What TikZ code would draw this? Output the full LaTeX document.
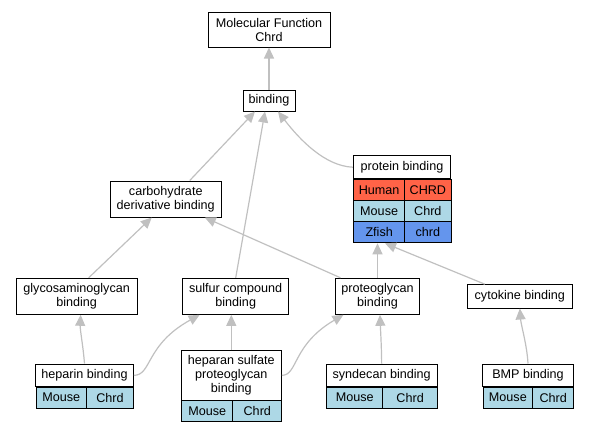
\documentclass[tikz,border=0pt]{standalone}
\usepackage{fontspec}
\setmainfont{Liberation Sans}
\usetikzlibrary{arrows.meta}
\definecolor{edgegray}{HTML}{C0C0C0}
\definecolor{human}{HTML}{FF6347}
\definecolor{mouse}{HTML}{ADD8E6}
\definecolor{zfish}{HTML}{6495ED}
\begin{document}
\begin{tikzpicture}[x=1pt,y=-1pt,
 box/.style={draw=black, line width=1pt, fill=white, inner sep=0pt, align=center,
   font=\fontsize{12.6}{14}\selectfont},
 cellnw/.style={box, anchor=north west},
 edge/.style={draw=edgegray, line width=1.2pt, -{Triangle[width=10pt,length=11pt]}}]
\useasboundingbox (0,0) rectangle (589,432);

% plain term boxes
\node[box, minimum width=122pt, minimum height=35pt] (mf) at (269,29.5) {Molecular Function\\Chrd};
\node[box, minimum width=52pt, minimum height=21pt] (bind) at (269,100.5) {binding};
\node[box, minimum width=110.5pt, minimum height=36pt] (carb) at (165.75,199) {carbohydrate\\derivative binding};
\node[box, minimum width=121.3pt, minimum height=36pt] (glyc) at (76.65,296.3) {glycosaminoglycan\\binding};
\node[box, minimum width=106pt, minimum height=36pt] (sulf) at (235.7,296.3) {sulfur compound\\binding};
\node[box, minimum width=84.4pt, minimum height=36pt] (prote) at (377.5,296.3) {proteoglycan\\binding};
\node[box, minimum width=104.3pt, minimum height=23.3pt] (cyto) at (519.85,296.35) {cytokine binding};

% protein binding table
\node[box, minimum width=97.4pt, minimum height=23pt] (pT) at (402,167.2) {protein binding};
\node[cellnw, fill=human, minimum width=50.7pt, minimum height=21.3pt] (pH1) at (353.3,178.7) {Human};
\node[cellnw, fill=human, minimum width=46.7pt, minimum height=21.3pt] (pH2) at (404,178.7) {CHRD};
\node[cellnw, fill=mouse, minimum width=50.7pt, minimum height=21.3pt] (pM1) at (353.3,200) {Mouse};
\node[cellnw, fill=mouse, minimum width=46.7pt, minimum height=21.3pt] (pM2) at (404,200) {Chrd};
\node[cellnw, fill=zfish, minimum width=50.7pt, minimum height=21pt] (pZ1) at (353.3,221.3) {Zfish};
\node[cellnw, fill=zfish, minimum width=46.7pt, minimum height=21pt] (pZ2) at (404,221.3) {chrd};

% heparin binding table
\node[box, minimum width=97.6pt, minimum height=22.7pt] (hT) at (84.5,375.35) {heparin binding};
\node[cellnw, fill=mouse, minimum width=50pt, minimum height=21pt] (hM) at (35.7,386.7) {Mouse};
\node[cellnw, fill=mouse, minimum width=47.6pt, minimum height=21pt] (hC) at (85.7,386.7) {Chrd};

% heparan sulfate proteoglycan binding table
\node[box, minimum width=100pt, minimum height=49.3pt] (hsT) at (231.3,375.35) {heparan sulfate\\proteoglycan\\binding};
\node[cellnw, fill=mouse, minimum width=51pt, minimum height=21pt] (hsM) at (181.3,400) {Mouse};
\node[cellnw, fill=mouse, minimum width=49pt, minimum height=21pt] (hsC) at (232.3,400) {Chrd};

% syndecan binding table
\node[box, minimum width=110.7pt, minimum height=22.7pt] (sT) at (381.65,375.35) {syndecan binding};
\node[cellnw, fill=mouse, minimum width=56pt, minimum height=21pt] (sM) at (326.3,386.7) {Mouse};
\node[cellnw, fill=mouse, minimum width=54.7pt, minimum height=21pt] (sC) at (382.3,386.7) {Chrd};

% BMP binding table
\node[box, minimum width=90.6pt, minimum height=22.7pt] (bT) at (528,375.35) {BMP binding};
\node[cellnw, fill=mouse, minimum width=49.3pt, minimum height=21pt] (bM) at (482.7,386.7) {Mouse};
\node[cellnw, fill=mouse, minimum width=41.3pt, minimum height=21pt] (bC) at (532,386.7) {Chrd};

% edges
\draw[edge] (bind.north) -- (mf.south);
\draw[edge] ([xshift=24pt]carb.north) -- ([xshift=-14pt]bind.south);
\draw[edge] (sulf.north) -- ([xshift=-4pt]bind.south);
\draw[edge] (pT.west) .. controls (325,166) and (300,140) .. ([xshift=9pt]bind.south);
\draw[edge] ([xshift=12pt]glyc.north) -- ([xshift=-14pt]carb.south);
\draw[edge] ([xshift=-37pt]prote.north) -- ([xshift=39pt]carb.south);
\draw[edge] (prote.north) -- (prote.north |- pZ1.south);
\draw[edge] ([xshift=-35pt]cyto.north) -- ([xshift=-20pt]pZ1.south east);
\draw[edge] (hT.north) .. controls (83,345) and (80,330) .. ([xshift=4pt]glyc.south);
\draw[edge] (hT.east) .. controls (152,375.3) and (145,345) .. ([xshift=-36pt]sulf.south);
\draw[edge] (hsT.north) -- (hsT.north |- sulf.south);
\draw[edge] (hsT.east) .. controls (298,375.3) and (292,345) .. ([xshift=-34pt]prote.south);
\draw[edge] (sT.north) .. controls (381.5,345) and (380.5,330) .. ([xshift=2.5pt]prote.south);
\draw[edge] (bT.north) .. controls (527,345) and (521,325) .. (cyto.south);
\end{tikzpicture}
\end{document}
